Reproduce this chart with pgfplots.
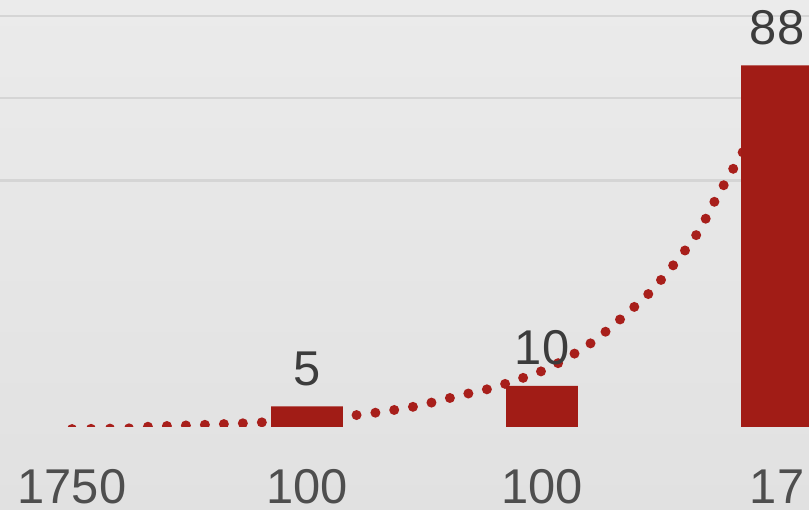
\documentclass[border=0pt]{standalone}
\usepackage{fontspec}
\setmainfont{Liberation Sans}
\usepackage{pgfplots}
\pgfplotsset{compat=1.18}

\definecolor{barred}{HTML}{A11C16}
\definecolor{dotred}{HTML}{A81F1B}
\definecolor{labelgray}{HTML}{4E4E4E}
\definecolor{valuegray}{HTML}{3C3C3C}
\definecolor{gridgray}{HTML}{D5D5D5}
\definecolor{bgtop}{HTML}{EBEBEB}
\definecolor{bgbottom}{HTML}{E1E1E1}

\newcommand{\bigfont}{\fontsize{27.8}{31}\selectfont}

\begin{document}
\begin{tikzpicture}
  % page frame and backdrop
  \path[use as bounding box] (0,-1.66) rectangle (16.18,8.54);
  \clip (0,-1.66) rectangle (16.18,8.54);
  \shade[top color=bgtop, bottom color=bgbottom] (0,-1.66) rectangle (16.18,8.54);

  \begin{axis}[
    at={(0,0)}, anchor=south west,
    scale only axis,
    width=16.18cm, height=8.54cm,
    xmin=-0.3064, xmax=3.136,
    ymin=0, ymax=103.9,
    axis line style={draw=none},
    tick style={draw=none},
    xtick={0,1,2,3},
    xticklabels={1750,100,100,17},
    xticklabel style={font=\bigfont, text=labelgray, anchor=base, inner sep=0pt, yshift=-1.53cm},
    ytick={60,80,100},
    yticklabel={},
    ymajorgrids,
    grid style={gridgray, line width=1.3pt},
    /pgf/number format/assume math mode=true,
    clip=true,
  ]
    % exponential trend, drawn first so the bars sit on top of it
    \addplot[dotred, line width=0.2cm, line cap=round,
             dash pattern=on 0pt off 0.38cm, smooth, tension=0.4]
      coordinates {
        (0,-0.5) (0.26,-0.3) (0.33,0.1) (0.55,0.5) (0.83,1.2)
        (1.21,2.9) (1.45,4.9) (1.66,7.8) (1.80,9.7) (2.02,14.1)
        (2.19,19.7) (2.30,24.6) (2.46,32.8) (2.59,41.6) (2.67,47.9)
        (2.74,55.5) (2.81,62.5) (2.85,66.4) (3.0,84)
      };

    \addplot[ybar, bar width=0.306, bar shift=0pt, fill=barred, draw=none,
             nodes near coords,
             every node near coord/.append style={font=\bigfont, text=valuegray,
               anchor=base, inner sep=0pt, yshift=0.42cm}]
      coordinates {(1,5) (2,10) (3,88)};
  \end{axis}
\end{tikzpicture}
\end{document}
